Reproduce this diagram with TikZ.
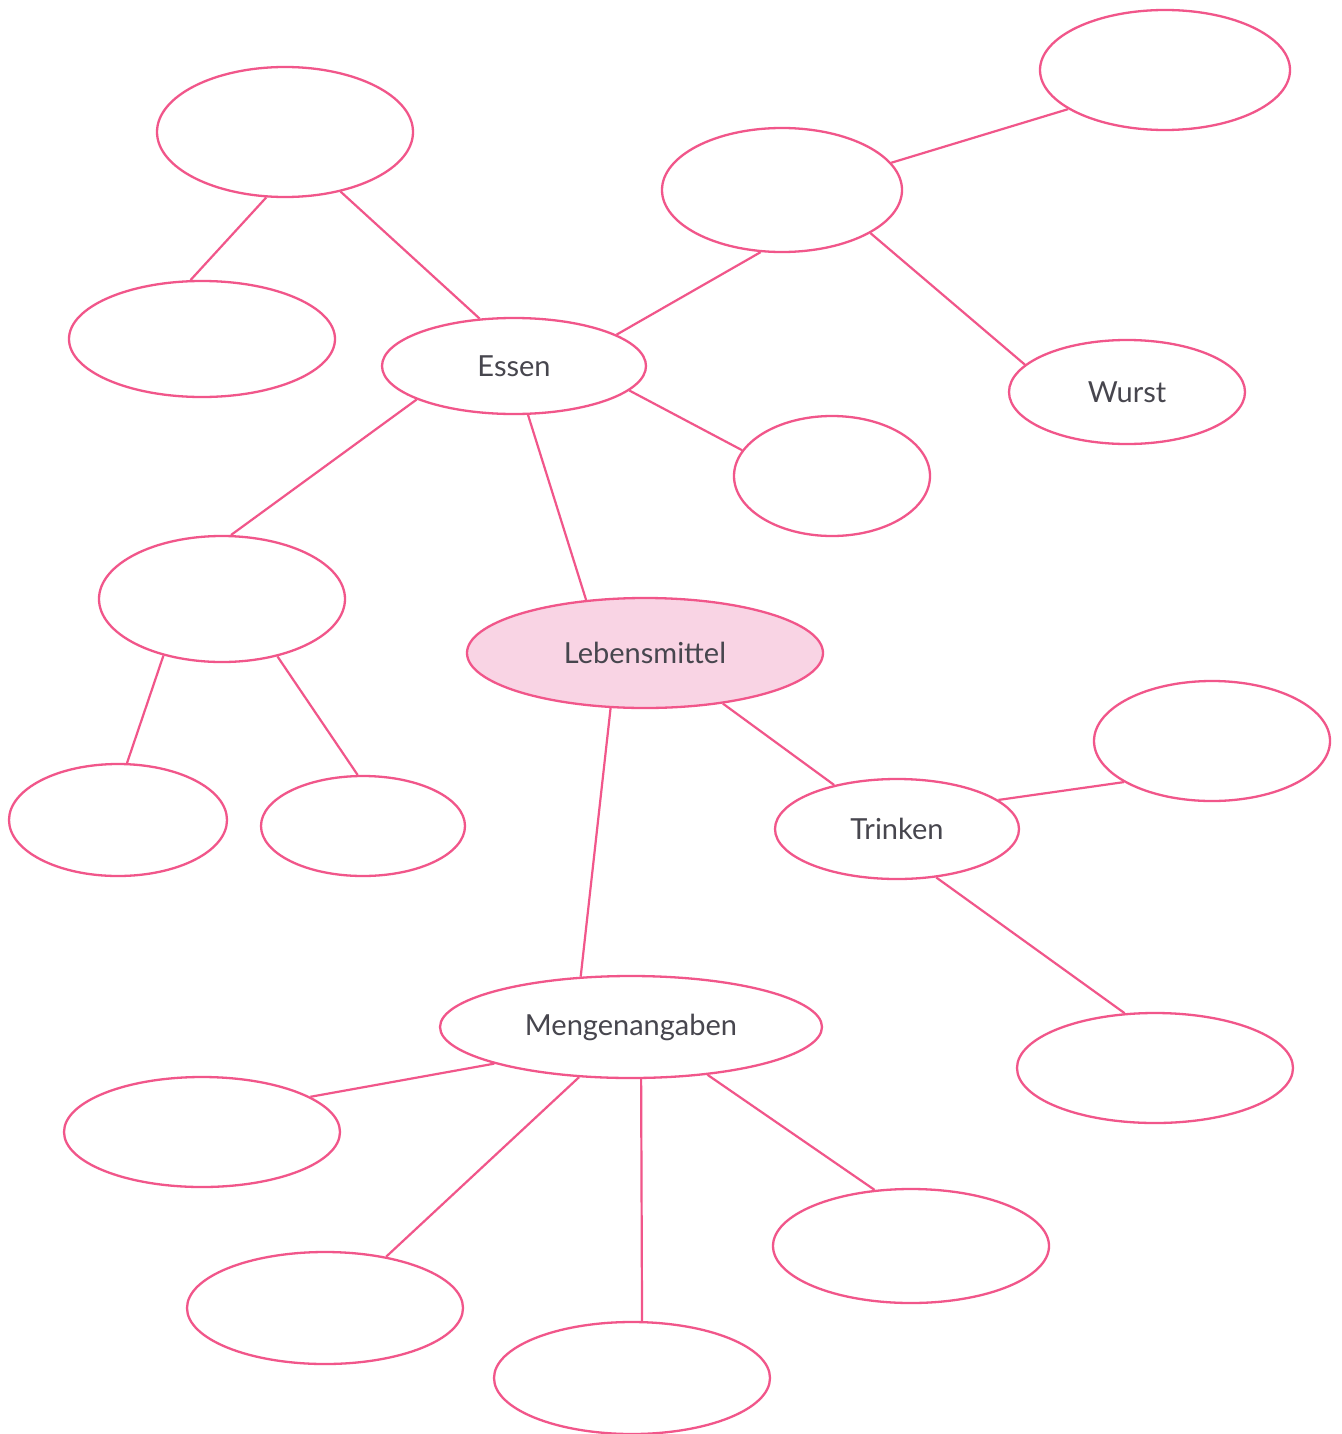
\documentclass[tikz,border=0pt]{standalone}
\usepackage{fontspec}
\setmainfont{Lato}
\usetikzlibrary{shapes.geometric}
\definecolor{linepink}{HTML}{F1568A}
\definecolor{fillpink}{HTML}{F9D4E4}
\definecolor{txt}{HTML}{47464E}
\tikzset{
  bubble/.style={ellipse, draw=linepink, line width=1.15pt, inner sep=0pt, text=txt, font=\fontsize{14.5}{16}\selectfont},
  link/.style={draw=linepink, line width=1.1pt}
}
\begin{document}
\begin{tikzpicture}[x=0.5pt,y=-0.5pt]
\useasboundingbox (0,0) rectangle (1341,1434);
\fill[white] (0,0) rectangle (1341,1434);
% nodes
\node[bubble, minimum width=256pt*0.5, minimum height=130pt*0.5] (e1) at (285,132) {};
\node[bubble, minimum width=266pt*0.5, minimum height=116pt*0.5] (e2) at (202,339) {};
\node[bubble, minimum width=264pt*0.5, minimum height=96pt*0.5] (essen) at (514,366) {Essen};
\node[bubble, minimum width=250pt*0.5, minimum height=120pt*0.5] (e4) at (1165,70) {};
\node[bubble, minimum width=240pt*0.5, minimum height=124pt*0.5] (e5) at (782,190) {};
\node[bubble, minimum width=236pt*0.5, minimum height=104pt*0.5] (wurst) at (1127,392) {Wurst};
\node[bubble, minimum width=196pt*0.5, minimum height=120pt*0.5] (e7) at (832,476) {};
\node[bubble, minimum width=246pt*0.5, minimum height=126pt*0.5] (e8) at (222,599) {};
\node[bubble, fill=fillpink, minimum width=356pt*0.5, minimum height=110pt*0.5] (leb) at (645,653) {Lebensmittel};
\node[bubble, minimum width=218pt*0.5, minimum height=112pt*0.5] (e10) at (118,820) {};
\node[bubble, minimum width=204pt*0.5, minimum height=100pt*0.5] (e11) at (363,826) {};
\node[bubble, minimum width=236pt*0.5, minimum height=120pt*0.5] (e12) at (1212,741) {};
\node[bubble, minimum width=244pt*0.5, minimum height=100pt*0.5] (trinken) at (897,829) {Trinken};
\node[bubble, minimum width=276pt*0.5, minimum height=110pt*0.5] (e14) at (1155,1068) {};
\node[bubble, minimum width=382pt*0.5, minimum height=102pt*0.5] (meng) at (631,1027) {Mengenangaben};
\node[bubble, minimum width=276pt*0.5, minimum height=110pt*0.5] (e16) at (202,1132) {};
\node[bubble, minimum width=276pt*0.5, minimum height=114pt*0.5] (e17) at (911,1246) {};
\node[bubble, minimum width=276pt*0.5, minimum height=112pt*0.5] (e18) at (325,1308) {};
\node[bubble, minimum width=276pt*0.5, minimum height=112pt*0.5] (e19) at (632,1378) {};
% connectors
\draw[link] (e1.-106.9) -- (e2.101.7);
\draw[link] (e1.-47.3) -- (essen.126.5);
\draw[link] (essen.17.7) -- (e5.-109.2);
\draw[link] (e4.-158.6) -- (e5.14.3);
\draw[link] (e5.-26.3) -- (wurst.165.8);
\draw[link] (essen.-12.6) -- (e7.164.6);
\draw[link] (essen.-161.9) -- (e8.82.5);
\draw[link] (essen.-74.1) -- (leb.138.6);
\draw[link] (e8.-136.3) -- (e10.81.7);
\draw[link] (e8.-46.8) -- (e11.96.8);
\draw[link] (leb.-122.8) -- (meng.135);
\draw[link] (leb.-33.2) -- (trinken.145.2);
\draw[link] (trinken.16) -- (e12.-155.9);
\draw[link] (trinken.-51.9) -- (e14.119);
\draw[link] (meng.-165) -- (e16.18.8);
\draw[link] (meng.-136) -- (e18.40.7);
\draw[link] (meng.-79.1) -- (e19.80.9);
\draw[link] (meng.-32.2) -- (e17.123.7);
\end{tikzpicture}
\end{document}
